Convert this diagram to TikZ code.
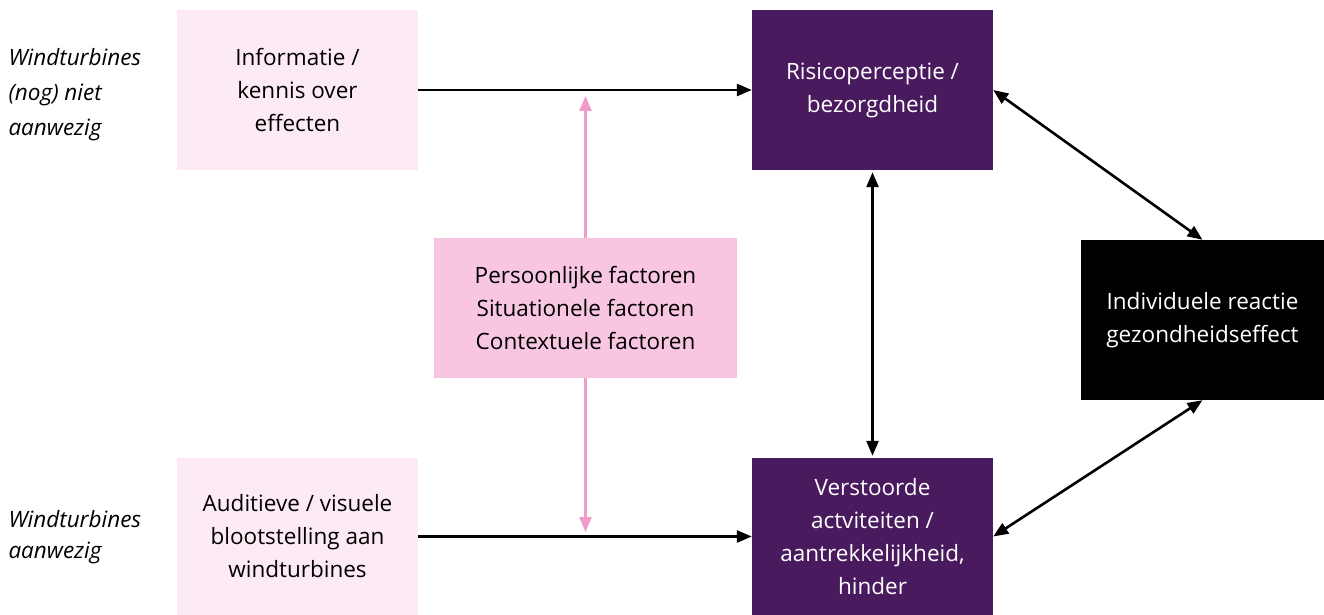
\documentclass[tikz,border=0pt]{standalone}
\usepackage{fontspec}
\setmainfont{Open Sans}
\usetikzlibrary{arrows.meta}
\definecolor{lightpink}{HTML}{FCEBF4}
\definecolor{midpink}{HTML}{F8C6E0}
\definecolor{arrowpink}{HTML}{F09CC8}
\definecolor{rvpurple}{HTML}{4A1A5E}
\begin{document}
\begin{tikzpicture}[x=1pt,y=-1pt,
  box/.style={rectangle, inner sep=0pt, align=center, font=\fontsize{22.5}{33}\selectfont, minimum width=241pt, minimum height=160pt},
  lbox/.style={box, fill=lightpink, text=black},
  pbox/.style={box, fill=rvpurple, text=white},
  side/.style={align=left, anchor=west, font=\fontsize{22.5}{35}\selectfont\itshape},
  blk/.style={line width=2.6pt, -{Triangle[length=15pt,width=12pt]}},
  dbl/.style={line width=2.6pt, {Triangle[length=15pt,width=12pt]}-{Triangle[length=15pt,width=12pt]}},
  pnk/.style={line width=2.4pt, color=arrowpink, -{Triangle[length=15pt,width=12pt]}}
]
\useasboundingbox (0,0) rectangle (1324,615);
\node[lbox] (info) at (297.5,90) {Informatie /\\kennis over\\effecten};
\node[lbox, minimum height=157pt] (aud) at (297.5,536.5) {Auditieve / visuele\\blootstelling aan\\windturbines};
\node[pbox] (risk) at (872.5,90) {Risicoperceptie /\\bezorgdheid};
\node[pbox, minimum height=157pt] (verst) at (872.5,536.5) {Verstoorde\\actviteiten /\\aantrekkelijkheid,\\hinder};
\node[box, fill=midpink, minimum width=303pt, minimum height=140pt] (pers) at (585.5,308) {Persoonlijke factoren\\Situationele factoren\\Contextuele factoren};
\node[box, fill=black, text=white, minimum width=243pt] (ind) at (1202.5,320) {Individuele reactie\\gezondheidseffect};
\node[side] (l1) at (5,95) {Windturbines\\(nog) niet\\aanwezig};
\node[side, font=\fontsize{22.5}{31}\selectfont\itshape] (l2) at (5,537) {Windturbines\\aanwezig};
\coordinate (pu) at (585.5,96);
\coordinate (pd) at (585.5,532);
\draw[blk] (info) -- (risk);
\draw[blk] (aud) -- (verst);
\draw[pnk] (pers) -- (pu);
\draw[pnk] (pers) -- (pd);
\draw[dbl, shorten <=2pt, shorten >=2pt] (risk) -- (verst);
\draw[dbl] (risk.east) -- (ind.north);
\draw[dbl] (ind.south) -- (verst.east);
\end{tikzpicture}
\end{document}
